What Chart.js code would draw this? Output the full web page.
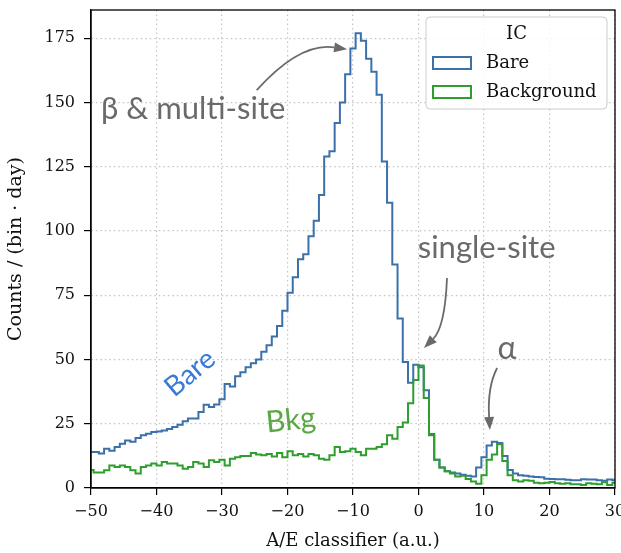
<!DOCTYPE html>
<html>
<head>
<meta charset="utf-8">
<script src="https://cdn.jsdelivr.net/npm/chart.js@4.4.1/dist/chart.umd.min.js"></script>
<style>
  html, body { margin: 0; padding: 0; background: #fff; overflow: hidden; }
  #wrap { width: 621px; height: 553px; overflow: hidden; }
</style>
</head>
<body>
<div id="wrap"><canvas id="myChart" width="640" height="553"></canvas></div>
<script>
// histogram binning of the A/E classifier
const binStart = -50.4;
const binWidth = 0.8;

// counts per bin per day, IC detector, bare (no cuts)
const bareCounts = [
  14, 14, 13.4, 15.3, 14.5, 16, 17.2, 18.5, 18, 19.5,
  20.5, 21.1, 21.8, 22, 22.4, 23, 23.7, 24.6, 26, 27,
  27, 29.6, 32.4, 31.5, 32.5, 34.5, 40.5, 39.5, 43.5, 45,
  47, 48.5, 50, 53, 55.5, 59, 63, 69, 76, 82,
  89, 91, 98, 104, 114, 129, 131, 142, 150, 161,
  171, 177, 174, 167, 162, 153, 127, 111, 87, 66,
  49, 41, 48, 47, 38, 21, 11, 8, 6.5, 6,
  5.6, 5.2, 4.8, 4.5, 8, 12, 16.5, 18, 17.5, 12.5,
  7, 5.6, 5, 4.8, 4.5, 4.3, 4.2, 3.6, 3.5, 3.4,
  3.4, 3.2, 3, 3, 3.4, 3.3, 3.3, 3, 2.8, 3.3,
  3
];

// counts per bin per day, background-enriched selection
const bkgCounts = [
  7, 6, 6, 6.9, 8.8, 8.2, 8.8, 8.2, 6.9, 5.6,
  8.2, 8.8, 9.5, 8.8, 10.1, 9.5, 9.5, 8.8, 7.5, 8.2,
  10.1, 9.5, 8.2, 10.8, 10.1, 11, 8.8, 11.4, 12, 12.5,
  12.5, 13.6, 13, 12.7, 13.2, 12.3, 13.6, 12, 14.3, 12.7,
  13.2, 12.3, 13.2, 12.7, 11.4, 11, 12.7, 16, 14, 14.3,
  15.3, 14, 12.7, 15.3, 15.3, 16, 17, 20.5, 19.2, 23.7,
  25.5, 33, 42, 47.7, 35, 20.5, 11, 8, 6.5, 5.6,
  4.5, 4.8, 3.5, 2.5, 1.7, 5, 11, 13, 17, 10.5,
  5, 3, 2.5, 3, 2.8, 2, 1.8, 2, 2.3, 1.8,
  1.7, 1.8, 1.5, 1.5, 1.2, 1.8, 1.7, 1.5, 2.2, 1.2,
  2
];

const xTicks = [-50, -40, -30, -20, -10, 0, 10, 20, 30];
const yTicks = [0, 25, 50, 75, 100, 125, 150, 175];

const bareColor = "#3b70ab";
const bkgColor = "#2e9e2e";
const noteGray = "#6a6a6a";

// text callouts, placed in data units
const notes = [
  { text: "β & multi-site", x: -34.4, y: 147.6, color: noteGray, size: 31, rot: 0 },
  { text: "single-site", x: 10.4, y: 93.5, color: noteGray, size: 31, rot: 0 },
  { text: "α", x: 13.5, y: 54.1, color: noteGray, size: 32, rot: 0 },
  { text: "Bare", x: -34.9, y: 44.7, color: "#3a7ad6", size: 28, rot: -40 },
  { text: "Bkg", x: -19.5, y: 26.4, color: "#5aa845", size: 30, rot: -6 }
];

// curved arrows: start, control point, tip (data units)
const arrows = [
  { from: [-24.7, 154.8], ctrl: [-18.1, 173.5], to: [-10.9, 170.7] },
  { from: [4.35, 81.7], ctrl: [4.05, 62.6], to: [0.84, 54.5] },
  { from: [12.0, 46.7], ctrl: [10.5, 39.3], to: [10.9, 22.6] }
];

function stepPoints(counts) {
  const pts = counts.map((c, i) => ({ x: binStart + i * binWidth, y: c }));
  pts.push({ x: binStart + counts.length * binWidth, y: counts[counts.length - 1] });
  return pts;
}

function drawArrow(ctx, x0, y0, cx, cy, x1, y1) {
  const ang = Math.atan2(y1 - cy, x1 - cx);
  const head = 13, half = 5;
  const bx = x1 - head * Math.cos(ang), by = y1 - head * Math.sin(ang);
  ctx.beginPath();
  ctx.moveTo(x0, y0);
  ctx.quadraticCurveTo(cx, cy, bx, by);
  ctx.stroke();
  ctx.beginPath();
  ctx.moveTo(x1, y1);
  ctx.lineTo(bx + half * Math.sin(ang), by - half * Math.cos(ang));
  ctx.lineTo(bx - half * Math.sin(ang), by + half * Math.cos(ang));
  ctx.closePath();
  ctx.fill();
}

function roundRect(ctx, x, y, w, h, r) {
  ctx.beginPath();
  ctx.moveTo(x + r, y);
  ctx.lineTo(x + w - r, y);
  ctx.quadraticCurveTo(x + w, y, x + w, y + r);
  ctx.lineTo(x + w, y + h - r);
  ctx.quadraticCurveTo(x + w, y + h, x + w - r, y + h);
  ctx.lineTo(x + r, y + h);
  ctx.quadraticCurveTo(x, y + h, x, y + h - r);
  ctx.lineTo(x, y + r);
  ctx.quadraticCurveTo(x, y, x + r, y);
  ctx.closePath();
}

// frame, callouts and the legend box on top of the histograms
const overlay = {
  id: "overlay",
  afterDraw(chart) {
    const { ctx, chartArea: a, scales } = chart;
    const sx = scales.x, sy = scales.y;
    ctx.save();

    ctx.strokeStyle = "#000";
    ctx.lineWidth = 1.3;
    ctx.strokeRect(a.left, a.top, a.right - a.left, a.bottom - a.top);

    notes.forEach((n) => {
      ctx.save();
      ctx.translate(sx.getPixelForValue(n.x), sy.getPixelForValue(n.y));
      ctx.rotate((n.rot * Math.PI) / 180);
      ctx.font = n.size + "px Lato";
      ctx.fillStyle = n.color;
      ctx.textAlign = "center";
      ctx.textBaseline = "middle";
      ctx.fillText(n.text, 0, 0);
      ctx.restore();
    });

    ctx.strokeStyle = noteGray;
    ctx.fillStyle = noteGray;
    ctx.lineWidth = 1.8;
    arrows.forEach((ar) => {
      drawArrow(ctx,
        sx.getPixelForValue(ar.from[0]), sy.getPixelForValue(ar.from[1]),
        sx.getPixelForValue(ar.ctrl[0]), sy.getPixelForValue(ar.ctrl[1]),
        sx.getPixelForValue(ar.to[0]), sy.getPixelForValue(ar.to[1]));
    });

    // legend
    const lx = a.right - 189, ly = a.top + 7, lw = 181, lh = 92;
    roundRect(ctx, lx, ly, lw, lh, 4);
    ctx.fillStyle = "rgba(255,255,255,0.85)";
    ctx.fill();
    ctx.strokeStyle = "#cccccc";
    ctx.lineWidth = 1;
    ctx.stroke();

    ctx.font = "18px 'DejaVu Serif'";
    ctx.fillStyle = "#111";
    ctx.textBaseline = "middle";
    ctx.textAlign = "center";
    ctx.fillText("IC", lx + lw / 2, ly + 17);
    ctx.textAlign = "left";
    const entries = [["Bare", bareColor], ["Background", bkgColor]];
    entries.forEach((e, i) => {
      const ey = ly + 46 + i * 29;
      ctx.strokeStyle = e[1];
      ctx.lineWidth = 2;
      ctx.strokeRect(lx + 7, ey - 6, 38, 12);
      ctx.fillStyle = "#111";
      ctx.fillText(e[0], lx + 60, ey);
    });

    ctx.restore();
  }
};

const serif = "'DejaVu Serif'";

new Chart(document.getElementById("myChart"), {
  type: "line",
  data: {
    datasets: [
      {
        label: "Background",
        data: stepPoints(bkgCounts),
        borderColor: bkgColor,
        borderWidth: 2,
        stepped: "before",
        pointRadius: 0,
        fill: false,
        clip: 0,
        order: 0
      },
      {
        label: "Bare",
        data: stepPoints(bareCounts),
        borderColor: bareColor,
        borderWidth: 2,
        stepped: "before",
        pointRadius: 0,
        fill: false,
        clip: 0,
        order: 1
      }
    ]
  },
  options: {
    responsive: false,
    animation: false,
    events: [],
    layout: { padding: { top: 10, right: 25, left: 0, bottom: 0 } },
    plugins: { legend: { display: false }, tooltip: { enabled: false } },
    scales: {
      x: {
        type: "linear",
        min: -50,
        max: 30,
        afterFit: (s) => { s.height = 65; s.paddingLeft = 0; s.paddingRight = 0; },
        afterBuildTicks: (s) => { s.ticks = xTicks.map((v) => ({ value: v })); },
        ticks: {
          color: "#111",
          padding: 7,
          font: { family: serif, size: 16 },
          callback: (v) => String(v).replace("-", "\u2212")
        },
        grid: { color: "#c4c4c4", lineWidth: 1.2, tickColor: "#000", tickLength: 7, tickWidth: 1.2 },
        border: { display: true, color: "#000", width: 1.3, dash: [1.5, 3] },
        title: {
          display: true,
          text: "A/E classifier (a.u.)",
          color: "#111",
          font: { family: serif, size: 18 },
          padding: { top: 0, bottom: 1 }
        }
      },
      y: {
        type: "linear",
        min: 0,
        max: 186,
        afterFit: (s) => { s.width = 91; s.paddingTop = 0; s.paddingBottom = 0; },
        afterBuildTicks: (s) => { s.ticks = yTicks.map((v) => ({ value: v })); },
        ticks: {
          color: "#111",
          padding: 9,
          font: { family: serif, size: 16 }
        },
        grid: { color: "#c4c4c4", lineWidth: 1.2, tickColor: "#000", tickLength: 7, tickWidth: 1.2 },
        border: { display: true, color: "#000", width: 1.3, dash: [1.5, 3] },
        title: {
          display: true,
          text: "Counts / (bin · day)",
          color: "#111",
          font: { family: serif, size: 19 },
          padding: { top: 5, bottom: 0 }
        }
      }
    }
  },
  plugins: [overlay]
});
</script>
</body>
</html>
